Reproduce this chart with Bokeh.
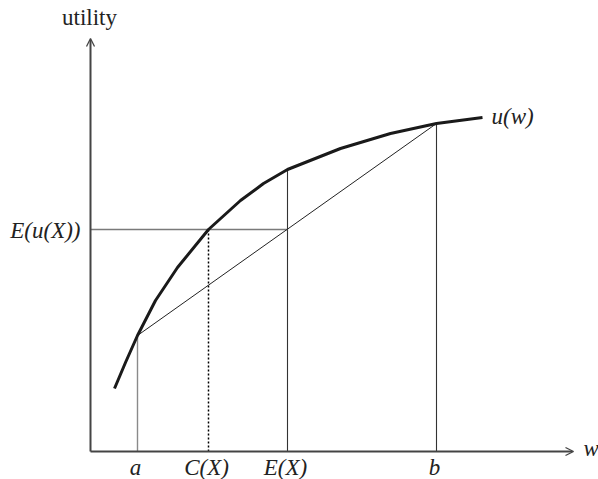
from bokeh.plotting import figure
from bokeh.models import Range1d, Arrow, OpenHead
from bokeh.core.properties import value
from bokeh.embed import file_html
from bokeh.resources import INLINE

# ---- data (wealth / utility units) ----
curve_w = [24, 35, 47, 65, 87, 118, 150, 173, 197, 250, 300, 346, 392]
curve_u = [63, 89, 116, 151, 184, 222, 251, 268, 282, 303, 318, 328, 334]
a_w, b_w = 47, 346
ua, ub = 116, 328
ex_w = 197          # E(X)
cx_w = 118          # C(X)
eu = 222            # E(u(X))
u_ex = 282          # u(E(X))
x_axis_end = 483
y_axis_end = 413

tick_labels = ["a", "C(X)", "E(X)", "b"]
tick_pos = [a_w, cx_w, ex_w, b_w]

FONT = value("Liberation Serif")
FS = "23px"
SHIFT = 7  # baseline compensation

p = figure(width=598, height=479, output_backend="svg", toolbar_location=None,
           x_range=Range1d(-90, 508), y_range=Range1d(-28, 451),
           x_axis_location=None, y_axis_location=None, min_border=0)
p.grid.visible = False
p.outline_line_color = None

AX = "#444444"
# axes with open arrowheads
p.add_layout(Arrow(end=OpenHead(size=8, line_width=1.3, line_color=AX),
                   x_start=0, y_start=0, x_end=0, y_end=y_axis_end,
                   line_width=2, line_color=AX))
p.add_layout(Arrow(end=OpenHead(size=8, line_width=1.3, line_color=AX),
                   x_start=0, y_start=0, x_end=x_axis_end, y_end=0,
                   line_width=2, line_color=AX))

# vertical guides
p.segment(x0=[a_w], y0=[0], x1=[a_w], y1=[ua], line_color="#8a8a8a", line_width=1.4)
p.segment(x0=[ex_w, b_w], y0=[0, 0], x1=[ex_w, b_w], y1=[u_ex, ub],
          line_color="#333333", line_width=1.1)
p.segment(x0=[cx_w], y0=[0], x1=[cx_w], y1=[eu], line_color="#000000",
          line_width=1.5, line_dash="2 2")
# horizontal E(u(X))
p.segment(x0=[0], y0=[eu], x1=[ex_w], y1=[eu], line_color="#7a7a7a", line_width=1.4)
# chord
p.line([a_w, b_w], [ua, ub], line_color="#222222", line_width=1.0)
# utility curve
p.line(curve_w, curve_u, line_color="#1a1a1a", line_width=3, line_join="round")

# tick labels
p.text(x=[t - 2 for t in tick_pos], y=[-23 + SHIFT] * 4, text=tick_labels,
       text_font=FONT, text_font_size=FS, text_font_style="italic",
       text_align="center", text_baseline="alphabetic", text_color="#222222")

# other labels
p.text(x=[-10], y=[eu - 8 + SHIFT], text=["E(u(X))"], text_font=FONT, text_font_size=FS,
       text_font_style="italic", text_align="right", text_baseline="alphabetic",
       text_color="#222222")
p.text(x=[curve_w[-1] + 9], y=[curve_u[-1] - 6 + SHIFT], text=["u(w)"], text_font=FONT,
       text_font_size=FS, text_font_style="italic", text_align="left",
       text_baseline="alphabetic", text_color="#222222")
p.text(x=[x_axis_end + 10], y=[-4 + SHIFT], text=["w"], text_font=FONT, text_font_size=FS,
       text_font_style="italic", text_align="left", text_baseline="alphabetic",
       text_color="#222222")
p.text(x=[-1], y=[427 + SHIFT], text=["utility"], text_font=FONT, text_font_size=FS,
       text_align="center", text_baseline="alphabetic", text_color="#222222")

open("out.html", "w").write(file_html(p, INLINE))
